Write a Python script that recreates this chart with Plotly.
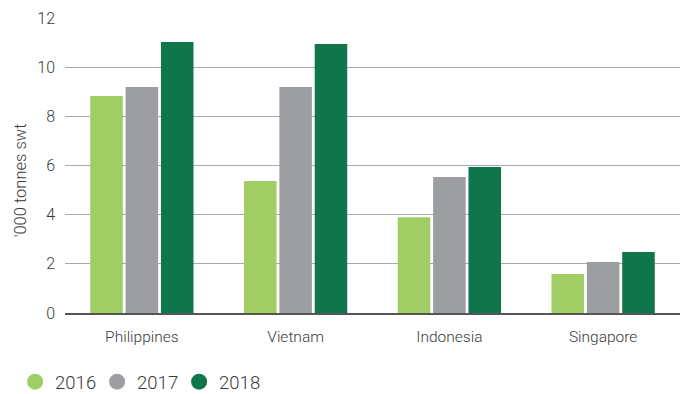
import plotly.graph_objects as go

countries = ["Philippines", "Vietnam", "Indonesia", "Singapore"]
years = ["2016", "2017", "2018"]
vals_2016 = [8.83, 5.37, 3.9, 1.59]
vals_2017 = [9.19, 9.19, 5.53, 2.07]
vals_2018 = [11.02, 10.94, 5.94, 2.48]
series = [vals_2016, vals_2017, vals_2018]
colors = ["#A0CD64", "#9D9EA1", "#0F754A"]
y_ticks = [0, 2, 4, 6, 8, 10, 12]

FONT = "Roboto"
TEXT = "#3a3a3a"

fig = go.Figure()
for yr, vals, col in zip(years, series, colors):
    fig.add_trace(go.Bar(x=countries, y=vals, name=yr, marker=dict(color=col, line=dict(width=0)),
                         showlegend=False))
# circular legend swatches
for yr, col in zip(years, colors):
    fig.add_trace(go.Scatter(x=[None], y=[None], mode="markers", name=yr,
                             marker=dict(color=col, size=16, symbol="circle")))

fig.update_layout(
    width=686, height=394,
    margin=dict(l=65, r=6, t=18, b=81),
    plot_bgcolor="white", paper_bgcolor="white",
    barmode="group", bargap=0.31, bargroupgap=0.08,
    font=dict(family=FONT, color=TEXT, weight=300),
    xaxis=dict(tickfont=dict(size=15.5, color=TEXT, weight=300), showgrid=False, ticks="",
               showline=True, linecolor="#555555", linewidth=1.5, ticklabelstandoff=9),
    yaxis=dict(range=[0, 12], tickvals=y_ticks, tickfont=dict(size=16, color=TEXT, weight=300),
               showgrid=True, gridcolor="#A7A9AC", gridwidth=1.2, zeroline=False,
               ticks="", ticklabelstandoff=9),
    legend=dict(orientation="h", xref="container", yref="container", x=0.022, y=0.03,
                xanchor="left", yanchor="middle", font=dict(size=18.5, color=TEXT, weight=300),
                itemwidth=30, entrywidth=37, tracegroupgap=0, traceorder="normal"),
    annotations=[dict(text="'000 tonnes swt", xref="paper", yref="paper",
                      x=-0.073, y=0.45, textangle=-90, showarrow=False,
                      xanchor="center", yanchor="middle",
                      font=dict(size=16.5, color=TEXT, family=FONT, weight=300))],
)
fig.write_html("out.html")
